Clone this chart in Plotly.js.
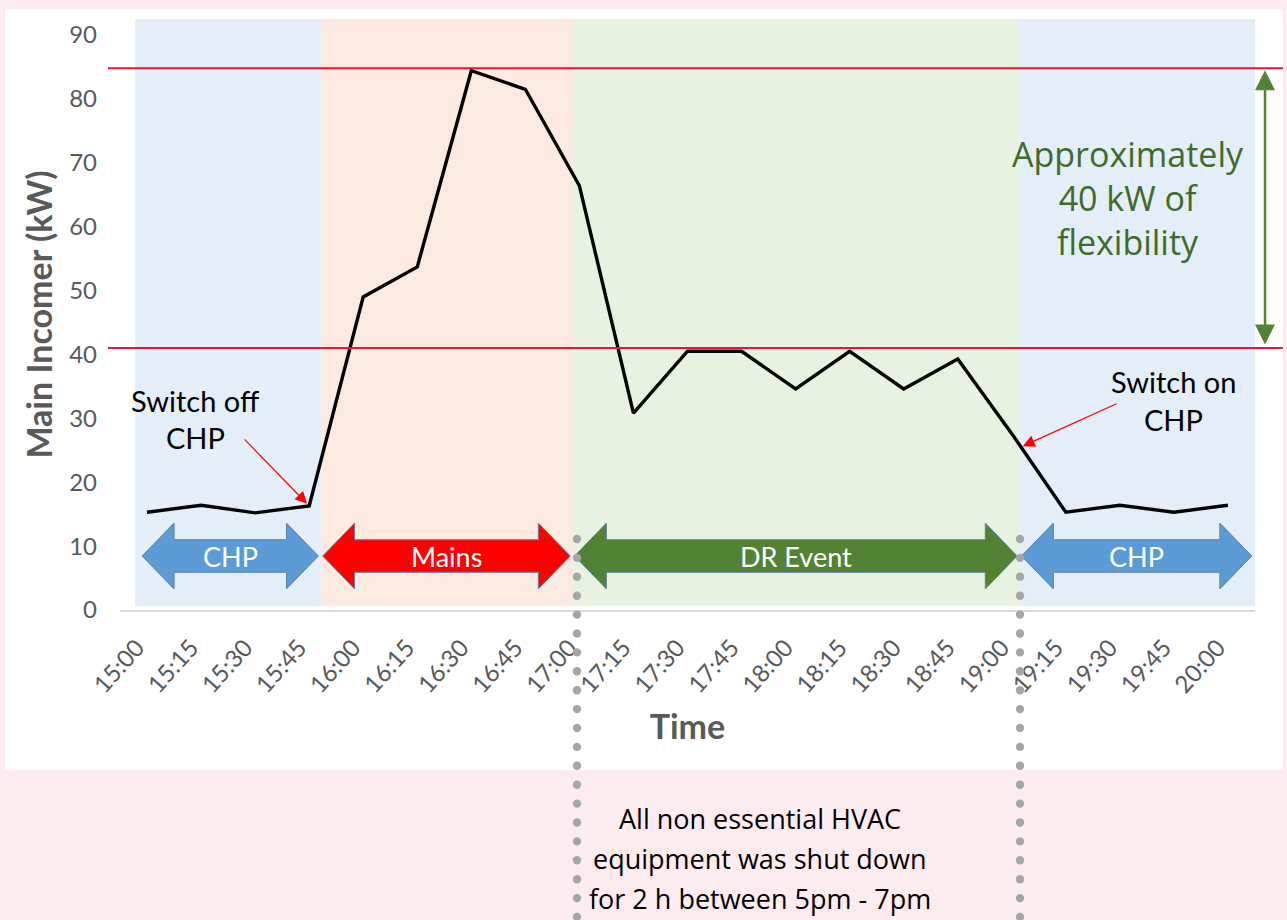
<!DOCTYPE html>
<html><head><meta charset="utf-8">
<script src="https://cdn.plot.ly/plotly-3.0.1.min.js"></script>
<style>html,body{margin:0;padding:0;background:#fdecef;}</style>
</head><body><div id="chart" style="width:1287px;height:920px;"></div>
<script>
// ---------- data ----------
const times = ['15:00','15:15','15:30','15:45','16:00','16:15','16:30','16:45','17:00','17:15','17:30','17:45','18:00','18:15','18:30','18:45','19:00','19:15','19:30','19:45','20:00'];
const incomerKW = [15.3,16.4,15.2,16.3,49.0,53.7,84.4,81.5,66.4,30.8,40.5,40.5,34.6,40.5,34.6,39.3,27.6,15.3,16.4,15.3,16.4];
const thresholdsKW = [84.8, 41.0];
const periodLabels = ['CHP','Mains','DR Event','CHP'];
const periodStart = [-0.22, 3.22, 7.88, 16.15];
const periodEnd = [3.22, 7.88, 16.15, 20.5];
const noteLines = ['All non essential HVAC','equipment was shut down','for 2 h between 5pm - 7pm'];
const flexLines = ['Approximately','40 kW of','flexibility'];

// ---------- geometry helpers ----------
const W = 1287, H = 920, ML = 120, MR = 32, MT = 19, MB = 310;
const PW = W - ML - MR, PH = H - MT - MB;
const YMAX = 92.5;
const px = x => (x - ML) / PW;           // pixel -> paper x
const py = y => (H - MB - y) / PH;       // pixel -> paper y
const vy = v => v / YMAX;                // value -> paper y

const bandColors = ['#e3eef8','#fce9df','#e8f2e1','#e3eef8'];
const arrowColors = ['#5b9bd5','#ff0000','#548235','#5b9bd5'];
const gray = '#595959';
const FONT = 'Lato, "Open Sans", sans-serif';

const shapes = [];
// white panel
shapes.push({type:'rect', xref:'paper', yref:'paper', x0:px(5), x1:px(1283), y0:py(770), y1:py(9),
  fillcolor:'#ffffff', line:{width:0}, layer:'below'});
// period bands
periodStart.forEach((s,i)=>{
  shapes.push({type:'rect', xref:'x', yref:'paper', x0:s, x1:periodEnd[i], y0:0.007, y1:1,
    fillcolor:bandColors[i], line:{width:0}, layer:'below'});
});
// threshold lines
thresholdsKW.forEach(v=>{
  shapes.push({type:'line', xref:'paper', yref:'paper', x0:px(108), x1:px(1283), y0:vy(v), y1:vy(v),
    line:{color:'#e4163a', width:2}});
});
// block double arrows
const AY = 8.45, HEAD = 0.59, SH = 2.55, HH = 5.15;
const arrowStart = periodStart.map((s,i)=> i===0 ? -0.09 : s + 0.03);
const arrowEnd = periodEnd.map((e,i)=> i===3 ? 20.44 : e - 0.05);
periodLabels.forEach((lab,i)=>{
  const a = arrowStart[i], b = arrowEnd[i];
  const p = `M${a},${AY} L${a+HEAD},${AY+HH} L${a+HEAD},${AY+SH} L${b-HEAD},${AY+SH} L${b-HEAD},${AY+HH} L${b},${AY} L${b-HEAD},${AY-HH} L${b-HEAD},${AY-SH} L${a+HEAD},${AY-SH} L${a+HEAD},${AY-HH} Z`;
  shapes.push({type:'path', xref:'x', yref:'y', path:p, fillcolor:arrowColors[i], line:{color:'#5f7fa3', width:1}});
});
// dotted vertical lines
[577, 1020].forEach(xp=>{
  for (let yp = 539; yp <= 918; yp += 18.9) {
    shapes.push({type:'circle', xref:'paper', yref:'paper', x0:px(xp-4.2), x1:px(xp+4.2), y0:py(yp+4.2), y1:py(yp-4.2),
      fillcolor:'#a6a6a6', line:{width:0}});
  }
});

const annotations = [];
periodLabels.forEach((lab,i)=>{
  annotations.push({xref:'x', yref:'y', x:(arrowStart[i]+arrowEnd[i])/2, y:AY, text:lab, showarrow:false,
    font:{family:FONT, size:27, color:'#ffffff'}, xanchor:'center', yanchor:'middle'});
});
// Switch off CHP
['Switch off','CHP'].forEach((t,i)=>{
  annotations.push({xref:'paper', yref:'paper', x:px(195), y:py(400+i*38), text:t, showarrow:false,
    font:{family:FONT, size:29, color:'#000000'}, xanchor:'center', yanchor:'middle'});
});
annotations.push({xref:'x', yref:'y', x:3, y:incomerKW[3], text:'', showarrow:true, ax:-66, ay:-68,
  arrowcolor:'#ff0000', arrowwidth:1.2, arrowhead:2, arrowsize:2, standoff:3});
// Switch on CHP
['Switch on','CHP'].forEach((t,i)=>{
  annotations.push({xref:'paper', yref:'paper', x:px(1173), y:py(381+i*38), text:t, showarrow:false,
    font:{family:FONT, size:29, color:'#000000'}, xanchor:'center', yanchor:'middle'});
});
const f = 0.17;
annotations.push({xref:'x', yref:'y', x:16+f, y:incomerKW[16]+(incomerKW[17]-incomerKW[16])*f, text:'', showarrow:true,
  ax:97, ay:-44, arrowcolor:'#ff0000', arrowwidth:1.2, arrowhead:2, arrowsize:2, standoff:2});
// flexibility arrow
annotations.push({xref:'paper', yref:'y', x:px(1265), y:thresholdsKW[0], axref:'pixel', ax:0, ayref:'y', ay:thresholdsKW[1],
  text:'', showarrow:true, arrowside:'end+start', arrowcolor:'#548235', arrowwidth:2.5, arrowhead:2, arrowsize:1.6,
  standoff:2, startstandoff:2, startarrowhead:2, startarrowsize:1.6});
annotations.push({xref:'paper', yref:'paper', x:px(1128), y:py(198), text:flexLines.join('<br>'), showarrow:false,
  font:{family:'"Open Sans", sans-serif', size:34, color:'#3e6b2a', weight:500}, xanchor:'center', yanchor:'middle', align:'center'});
// bottom note
noteLines.forEach((t,i)=>{
  annotations.push({xref:'paper', yref:'paper', x:px(760), y:py(818+i*40), text:t, showarrow:false,
    font:{family:'"Open Sans", sans-serif', size:27, color:'#000000', weight:500}, xanchor:'center', yanchor:'middle'});
});

const trace = {x: times.map((t,i)=>i), y: incomerKW, type:'scatter', mode:'lines',
  line:{color:'#000000', width:3.4}, hoverinfo:'skip', showlegend:false, cliponaxis:false};

const layout = {
  width:W, height:H, margin:{l:ML, r:MR, t:MT, b:MB, pad:0},
  paper_bgcolor:'#fdecef', plot_bgcolor:'rgba(0,0,0,0)',
  showlegend:false,
  font:{family:FONT, color:gray},
  xaxis:{range:[-0.5,20.5], tickmode:'array', tickvals:times.map((t,i)=>i), ticktext:times, tickangle:-48,
    tickfont:{family:FONT, size:24, color:gray}, showgrid:false, zeroline:false, showline:true,
    linecolor:'#d9d9d9', linewidth:2, ticks:'', ticklabelstandoff:12, ticklabelshift:-10,
    title:{text:'Time', font:{family:FONT, size:34, color:gray, weight:'bold'}, standoff:18}},
  yaxis:{range:[0,YMAX], tickmode:'linear', tick0:0, dtick:10,
    tickfont:{family:FONT, size:24, color:gray}, showgrid:false, zeroline:false, showline:false, ticks:'',
    ticklabelstandoff:22,
    title:{text:'Main Incomer (kW)', font:{family:FONT, size:34, color:gray, weight:'bold'}, standoff:6}},
  shapes: shapes, annotations: annotations
};
Plotly.newPlot('chart', [trace], layout, {staticPlot:true, displayModeBar:false});
</script></body></html>
